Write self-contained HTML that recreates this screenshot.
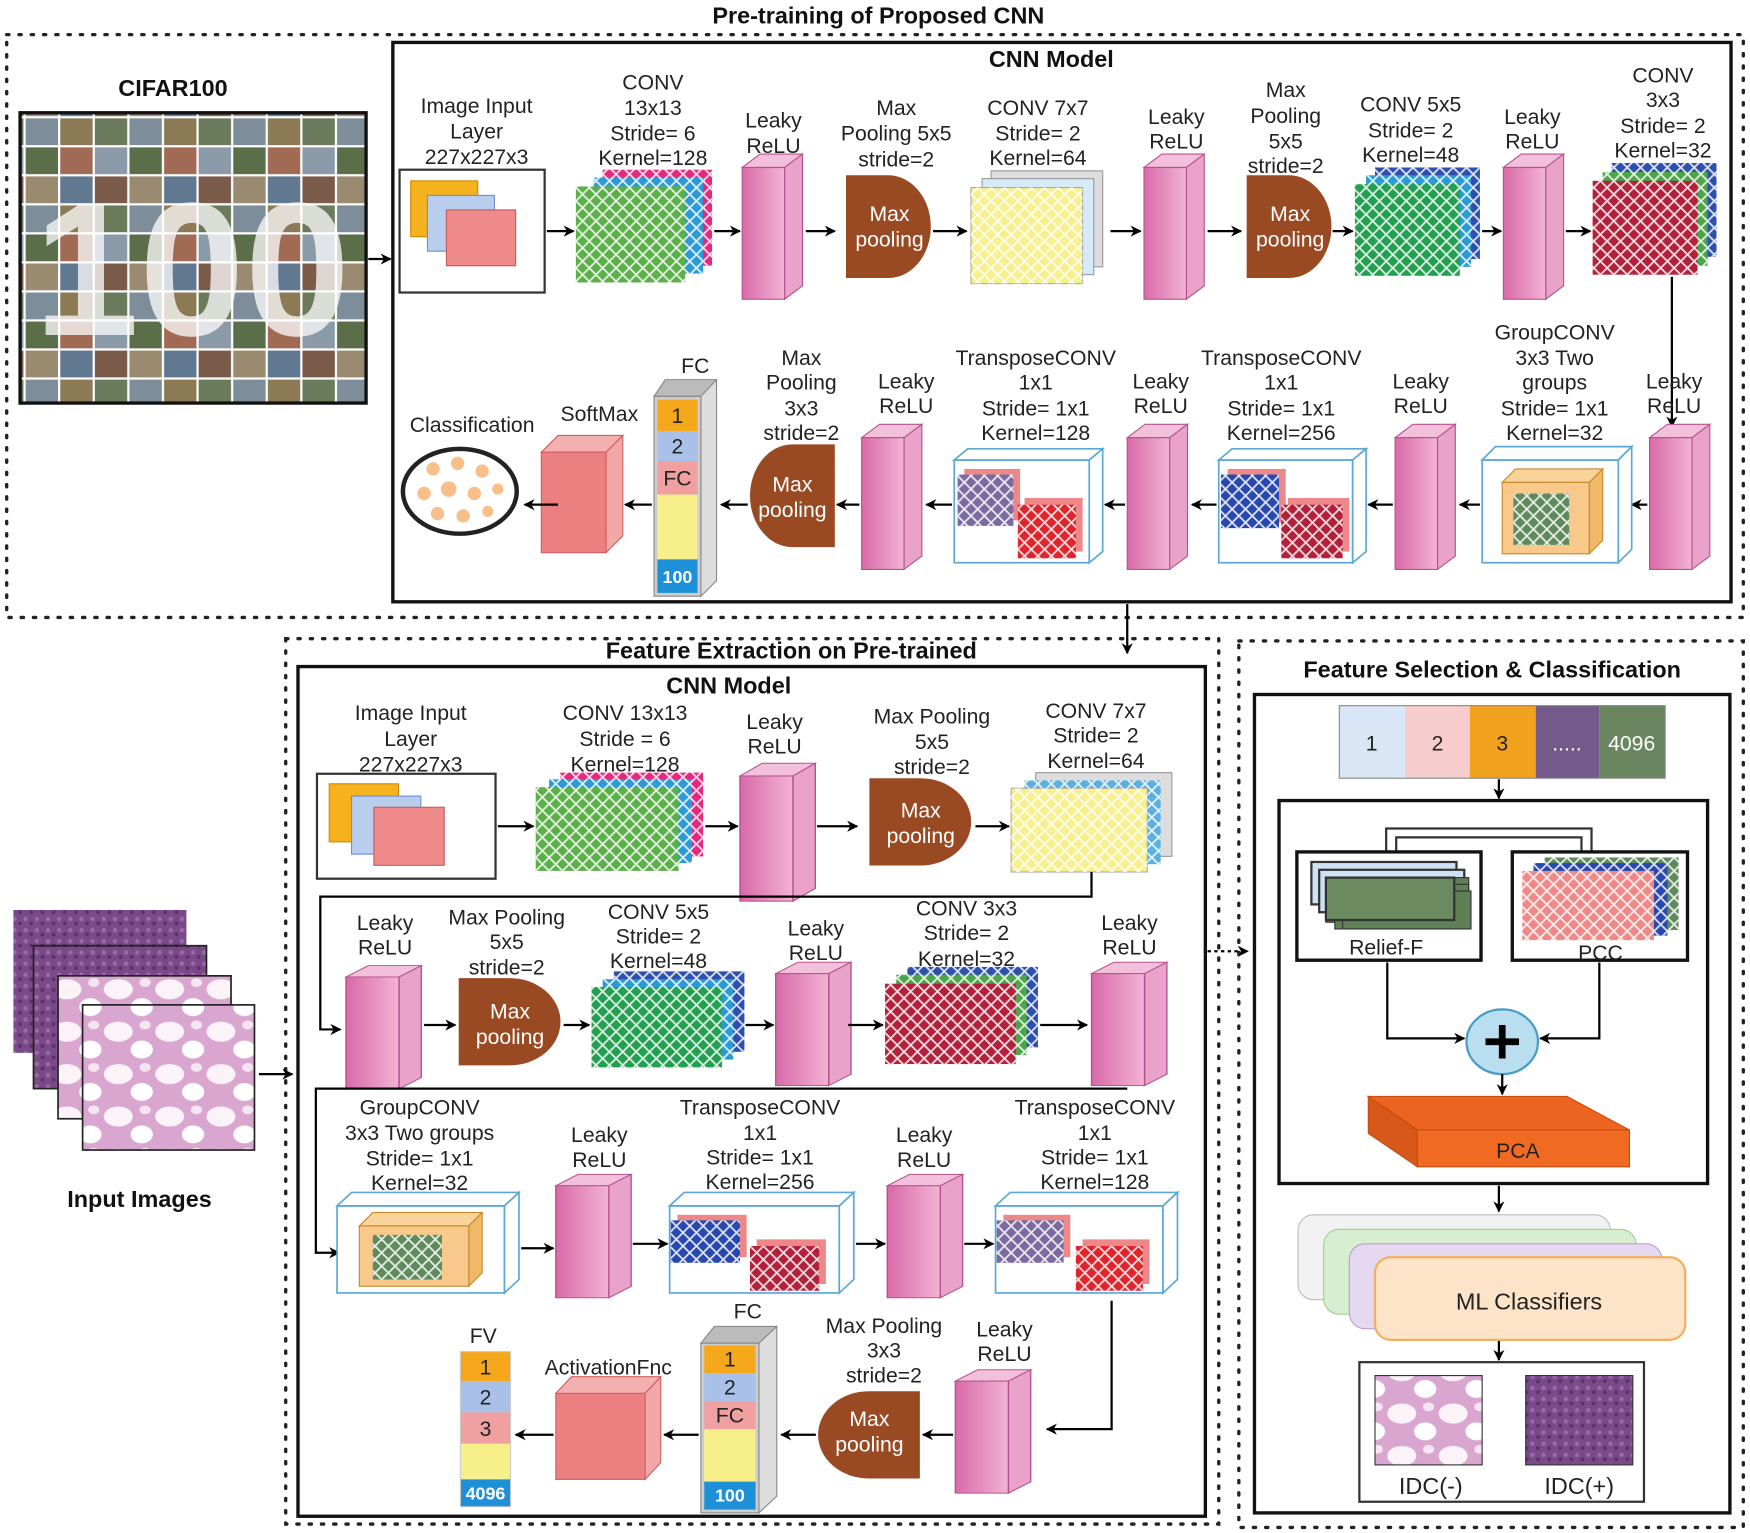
<!DOCTYPE html>
<html><head><meta charset="utf-8"><style>
html,body{margin:0;padding:0;background:#fff}
svg{display:block}
text{font-family:"Liberation Sans",sans-serif;font-size:19px;fill:#222;text-anchor:middle}
.b{font-weight:bold;font-size:21px;fill:#111}
.w{fill:#fff}
.s{font-size:16px;font-weight:bold}
</style></head><body>
<svg width="1750" height="1533" viewBox="0 0 1568 1373" preserveAspectRatio="none" xmlns="http://www.w3.org/2000/svg">
<defs>
<pattern id="h" width="12" height="12" patternUnits="userSpaceOnUse">
<path d="M0,0 L12,12 M12,0 L0,12" stroke="#fff" stroke-width="1.6" opacity="0.85"/>
</pattern>
<marker id="a" markerWidth="10" markerHeight="10" refX="9" refY="5" orient="auto" markerUnits="userSpaceOnUse">
<path d="M0,0 L10,5 L0,10 L3,5 Z" fill="#000"/>
</marker>
<linearGradient id="rg" x1="0" x2="1"><stop offset="0" stop-color="#d96aa8"/><stop offset="1" stop-color="#f2b3d5"/></linearGradient>
<g id="relu">
<polygon points="0,0 16,-12 54,-12 38,0" fill="#f3c0dc" stroke="#b5538e" stroke-width="1"/>
<polygon points="38,0 54,-12 54,106 38,118" fill="#e9a2c9" stroke="#b5538e" stroke-width="1"/>
<rect x="0" y="0" width="38" height="118" fill="url(#rg)" stroke="#b5538e" stroke-width="1"/>
</g>
<g id="mp">
<path d="M0,0 H38 A38,46 0 0 1 38,92 H0 Z" fill="#9a4a22"/>
</g>
<g id="mpl">
<path d="M76,0 H38 A38,46 0 0 0 38,92 H76 Z" fill="#9a4a22"/>
</g>
<pattern id="cif" width="93" height="78" patternUnits="userSpaceOnUse" x="22" y="105">
<rect width="93" height="78" fill="#fff"/>
<rect x="1" y="1" width="29" height="24" fill="#7d8d9a"/>
<rect x="32" y="1" width="29" height="24" fill="#8c7a55"/>
<rect x="63" y="1" width="29" height="24" fill="#6a7a5a"/>
<rect x="1" y="27" width="29" height="24" fill="#5b6e4a"/>
<rect x="32" y="27" width="29" height="24" fill="#a06a55"/>
<rect x="63" y="27" width="29" height="24" fill="#8a9aa8"/>
<rect x="1" y="53" width="29" height="24" fill="#9a8a70"/>
<rect x="32" y="53" width="29" height="24" fill="#607890"/>
<rect x="63" y="53" width="29" height="24" fill="#7a5a48"/>
</pattern>
<pattern id="tis" width="10" height="10" patternUnits="userSpaceOnUse">
<rect width="10" height="10" fill="#7a4a88"/>
<circle cx="3" cy="3" r="2" fill="#9a6aa8"/><circle cx="8" cy="7" r="1.8" fill="#5c3070"/>
</pattern>
<pattern id="tis2" width="46" height="38" patternUnits="userSpaceOnUse">
<rect width="46" height="38" fill="#d9a6d0"/>
<ellipse cx="14" cy="12" rx="13" ry="9" fill="#fbf3f8"/><ellipse cx="35" cy="28" rx="10" ry="8" fill="#fff"/><ellipse cx="38" cy="6" rx="5" ry="4" fill="#f5e5f0"/>
</pattern>
</defs>
<rect width="1568" height="1373" fill="#fff"/>

<!-- ================= TOP ================= -->
<text x="787" y="21" class="b">Pre-training of Proposed CNN</text>
<rect x="6" y="31" width="1556" height="522" fill="none" stroke="#222" stroke-width="3" stroke-dasharray="2 9" stroke-linecap="round"/>
<text x="155" y="86" class="b">CIFAR100</text>
<rect x="18" y="101" width="310" height="260" fill="url(#cif)" stroke="#111" stroke-width="3"/>
<text x="172" y="300" style="font-size:170px;font-weight:bold;fill:#fff;opacity:0.75">100</text>
<line x1="330" y1="232" x2="350" y2="232" stroke="#000" stroke-width="2" marker-end="url(#a)"/>

<rect x="352" y="38" width="1199" height="501" fill="none" stroke="#111" stroke-width="3"/>
<text x="942" y="60" class="b">CNN Model</text>

<!-- row1 -->
<text x="427" y="101">Image Input</text><text x="427" y="124">Layer</text><text x="427" y="147">227x227x3</text>
<rect x="358" y="152" width="130" height="110" fill="#fff" stroke="#333" stroke-width="2"/>
<rect x="368" y="162" width="60" height="50" fill="#f5b21c" stroke="#d08a00"/>
<rect x="383" y="175" width="60" height="50" fill="#b9cdef" stroke="#6f8fcf"/>
<rect x="400" y="188" width="62" height="50" fill="#ee8a8a" stroke="#c85a5a"/>
<line x1="490" y1="207" x2="514" y2="207" stroke="#000" stroke-width="2" marker-end="url(#a)"/>

<text x="585" y="80">CONV</text><text x="585" y="103">13x13</text><text x="585" y="126">Stride= 6</text><text x="585" y="148">Kernel=128</text>
<rect x="540" y="152" width="98" height="86" fill="#e4297e"/><rect x="540" y="152" width="98" height="86" fill="url(#h)"/>
<rect x="532" y="159" width="98" height="86" fill="#2c9ad8"/><rect x="532" y="159" width="98" height="86" fill="url(#h)"/>
<rect x="516" y="167" width="98" height="86" fill="#5cb04a"/><rect x="516" y="167" width="98" height="86" fill="url(#h)"/>
<line x1="640" y1="207" x2="663" y2="207" stroke="#000" stroke-width="2" marker-end="url(#a)"/>
<text x="693" y="114">Leaky</text><text x="693" y="137">ReLU</text>
<use href="#relu" x="665" y="150"/>
<line x1="722" y1="207" x2="748" y2="207" stroke="#000" stroke-width="2" marker-end="url(#a)"/>
<text x="803" y="103">Max</text><text x="803" y="126">Pooling 5x5</text><text x="803" y="149">stride=2</text>
<use href="#mp" x="758" y="157"/>
<text x="797" y="198" class="w">Max</text><text x="797" y="221" class="w">pooling</text>
<line x1="836" y1="207" x2="866" y2="207" stroke="#000" stroke-width="2" marker-end="url(#a)"/>
<text x="930" y="103">CONV 7x7</text><text x="930" y="126">Stride= 2</text><text x="930" y="148">Kernel=64</text>
<rect x="888" y="153" width="100" height="86" fill="#ddd" stroke="#999"/>
<rect x="880" y="160" width="100" height="86" fill="#fff" stroke="#999"/><rect x="880" y="160" width="100" height="86" fill="#5bb0e0" opacity="0.25"/>
<rect x="870" y="168" width="100" height="86" fill="#f6f18e" stroke="#aaa"/><rect x="870" y="168" width="100" height="86" fill="url(#h)"/>
<line x1="995" y1="207" x2="1022" y2="207" stroke="#000" stroke-width="2" marker-end="url(#a)"/>
<text x="1054" y="111">Leaky</text><text x="1054" y="133">ReLU</text>
<use href="#relu" x="1025" y="150"/>
<line x1="1082" y1="207" x2="1112" y2="207" stroke="#000" stroke-width="2" marker-end="url(#a)"/>
<text x="1152" y="87">Max</text><text x="1152" y="110">Pooling</text><text x="1152" y="133">5x5</text><text x="1152" y="155">stride=2</text>
<use href="#mp" x="1117" y="157"/>
<text x="1156" y="198" class="w">Max</text><text x="1156" y="221" class="w">pooling</text>
<line x1="1194" y1="207" x2="1212" y2="207" stroke="#000" stroke-width="2" marker-end="url(#a)"/>
<text x="1264" y="100">CONV 5x5</text><text x="1264" y="123">Stride= 2</text><text x="1264" y="145">Kernel=48</text>
<rect x="1232" y="150" width="94" height="82" fill="#2d4fb0"/><rect x="1232" y="150" width="94" height="82" fill="url(#h)"/>
<rect x="1224" y="157" width="94" height="82" fill="#2a9ad6"/><rect x="1224" y="157" width="94" height="82" fill="url(#h)"/>
<rect x="1214" y="165" width="94" height="82" fill="#22a050"/><rect x="1214" y="165" width="94" height="82" fill="url(#h)"/>
<line x1="1328" y1="207" x2="1345" y2="207" stroke="#000" stroke-width="2" marker-end="url(#a)"/>
<text x="1373" y="111">Leaky</text><text x="1373" y="133">ReLU</text>
<use href="#relu" x="1347" y="150"/>
<line x1="1403" y1="207" x2="1425" y2="207" stroke="#000" stroke-width="2" marker-end="url(#a)"/>
<text x="1490" y="74">CONV</text><text x="1490" y="96">3x3</text><text x="1490" y="119">Stride= 2</text><text x="1490" y="141">Kernel=32</text>
<rect x="1444" y="146" width="94" height="84" fill="#2d4fb0"/><rect x="1444" y="146" width="94" height="84" fill="url(#h)"/>
<rect x="1436" y="154" width="94" height="84" fill="#4ca54a"/><rect x="1436" y="154" width="94" height="84" fill="url(#h)"/>
<rect x="1427" y="162" width="94" height="84" fill="#b3203a"/><rect x="1427" y="162" width="94" height="84" fill="url(#h)"/>
<line x1="1498" y1="248" x2="1498" y2="382" stroke="#000" stroke-width="2" marker-end="url(#a)"/>

<!-- row2 -->
<text x="1500" y="348">Leaky</text><text x="1500" y="370">ReLU</text>
<use href="#relu" x="1478" y="392"/>
<line x1="1476" y1="452" x2="1462" y2="452" stroke="#000" stroke-width="2" marker-end="url(#a)"/>
<text x="1393" y="304">GroupCONV</text><text x="1393" y="327">3x3  Two</text><text x="1393" y="349">groups</text><text x="1393" y="372">Stride= 1x1</text><text x="1393" y="394">Kernel=32</text>
<rect x="1328" y="412" width="122" height="92" fill="#fff" stroke="#5aa8d8" stroke-width="1.5"/>
<polygon points="1328,412 1340,400 1462,400 1450,412" fill="#fff" stroke="#5aa8d8" stroke-width="1.5"/>
<polygon points="1450,412 1462,400 1462,492 1450,504" fill="#fff" stroke="#5aa8d8" stroke-width="1.5"/>
<polygon points="1346,432 1358,420 1436,420 1424,432" fill="#f8d49a" stroke="#c9882b"/>
<polygon points="1424,432 1436,420 1436,484 1424,496" fill="#f0b868" stroke="#c9882b"/>
<rect x="1346" y="432" width="78" height="64" fill="#f8c98a" stroke="#c9882b"/>
<rect x="1356" y="442" width="50" height="46" fill="#5f8a5c"/><rect x="1356" y="442" width="50" height="46" fill="url(#h)"/>
<line x1="1326" y1="452" x2="1308" y2="452" stroke="#000" stroke-width="2" marker-end="url(#a)"/>
<text x="1273" y="348">Leaky</text><text x="1273" y="370">ReLU</text>
<use href="#relu" x="1250" y="392"/>
<line x1="1248" y1="452" x2="1226" y2="452" stroke="#000" stroke-width="2" marker-end="url(#a)"/>
<text x="1148" y="327">TransposeCONV</text><text x="1148" y="349">1x1</text><text x="1148" y="372">Stride= 1x1</text><text x="1148" y="394">Kernel=256</text>
<rect x="1092" y="412" width="120" height="92" fill="#fff" stroke="#5aa8d8" stroke-width="1.5"/>
<polygon points="1092,412 1104,402 1224,402 1212,412" fill="#fff" stroke="#5aa8d8" stroke-width="1.5"/>
<polygon points="1212,412 1224,402 1224,494 1212,504" fill="#fff" stroke="#5aa8d8" stroke-width="1.5"/>
<rect x="1100" y="420" width="52" height="48" fill="#e88"/><rect x="1094" y="425" width="52" height="48" fill="#2848b0"/><rect x="1094" y="425" width="52" height="48" fill="url(#h)"/>
<rect x="1154" y="446" width="55" height="48" fill="#e88"/><rect x="1148" y="452" width="55" height="48" fill="#b3203a"/><rect x="1148" y="452" width="55" height="48" fill="url(#h)"/>
<line x1="1090" y1="452" x2="1068" y2="452" stroke="#000" stroke-width="2" marker-end="url(#a)"/>
<text x="1040" y="348">Leaky</text><text x="1040" y="370">ReLU</text>
<use href="#relu" x="1010" y="392"/>
<line x1="1008" y1="452" x2="990" y2="452" stroke="#000" stroke-width="2" marker-end="url(#a)"/>
<text x="928" y="327">TransposeCONV</text><text x="928" y="349">1x1</text><text x="928" y="372">Stride= 1x1</text><text x="928" y="394">Kernel=128</text>
<rect x="855" y="412" width="121" height="92" fill="#fff" stroke="#5aa8d8" stroke-width="1.5"/>
<polygon points="855,412 867,402 988,402 976,412" fill="#fff" stroke="#5aa8d8" stroke-width="1.5"/>
<polygon points="976,412 988,402 988,494 976,504" fill="#fff" stroke="#5aa8d8" stroke-width="1.5"/>
<rect x="864" y="420" width="50" height="46" fill="#e88"/><rect x="858" y="425" width="50" height="46" fill="#7a6aa0"/><rect x="858" y="425" width="50" height="46" fill="url(#h)"/>
<rect x="918" y="446" width="52" height="48" fill="#e88"/><rect x="912" y="452" width="52" height="48" fill="#e0242c"/><rect x="912" y="452" width="52" height="48" fill="url(#h)"/>
<line x1="853" y1="452" x2="830" y2="452" stroke="#000" stroke-width="2" marker-end="url(#a)"/>
<text x="812" y="348">Leaky</text><text x="812" y="370">ReLU</text>
<use href="#relu" x="772" y="392"/>
<line x1="770" y1="452" x2="750" y2="452" stroke="#000" stroke-width="2" marker-end="url(#a)"/>
<text x="718" y="327">Max</text><text x="718" y="349">Pooling</text><text x="718" y="372">3x3</text><text x="718" y="394">stride=2</text>
<use href="#mpl" x="672" y="398"/>
<text x="710" y="440" class="w">Max</text><text x="710" y="463" class="w">pooling</text>
<line x1="670" y1="452" x2="646" y2="452" stroke="#000" stroke-width="2" marker-end="url(#a)"/>
<text x="623" y="334">FC</text>
<polygon points="586,355 596,340 642,340 632,355" fill="#bbb" stroke="#888"/>
<polygon points="628,355 642,340 642,520 628,534" fill="#ddd" stroke="#888"/>
<rect x="586" y="355" width="42" height="179" fill="#ccc" stroke="#888"/>
<rect x="589" y="358" width="36" height="28" fill="#f5a81c"/><text x="607" y="379">1</text>
<rect x="589" y="386" width="36" height="27" fill="#a9c1e8"/><text x="607" y="406">2</text>
<rect x="589" y="413" width="36" height="30" fill="#f0a0a0"/><text x="607" y="435">FC</text>
<rect x="589" y="443" width="36" height="58" fill="#f7f08a"/>
<rect x="589" y="501" width="36" height="30" fill="#1e90d8"/><text x="607" y="522" class="w s">100</text>
<line x1="584" y1="452" x2="560" y2="452" stroke="#000" stroke-width="2" marker-end="url(#a)"/>
<text x="537" y="377">SoftMax</text>
<polygon points="485,405 500,390 558,390 543,405" fill="#f4b0b0" stroke="#d06060"/>
<polygon points="543,405 558,390 558,480 543,495" fill="#f2a8a8" stroke="#d06060"/>
<rect x="485" y="405" width="58" height="90" fill="#ec8080" stroke="#d06060"/>
<line x1="500" y1="452" x2="470" y2="452" stroke="#000" stroke-width="2" marker-end="url(#a)"/>
<text x="423" y="387">Classification</text>
<ellipse cx="412" cy="440" rx="51" ry="38" fill="#fff" stroke="#222" stroke-width="4"/>
<g fill="#f9bf8a"><circle cx="388" cy="420" r="6"/><circle cx="410" cy="415" r="6"/><circle cx="432" cy="422" r="6"/><circle cx="380" cy="442" r="6"/><circle cx="402" cy="438" r="7"/><circle cx="425" cy="442" r="6"/><circle cx="446" cy="438" r="5"/><circle cx="392" cy="460" r="6"/><circle cx="415" cy="462" r="6"/><circle cx="437" cy="458" r="5"/></g>

<line x1="1010" y1="541" x2="1010" y2="585" stroke="#000" stroke-width="2" marker-end="url(#a)"/>

<!-- ================= BOTTOM LEFT ================= -->
<rect x="256" y="572" width="836" height="793" fill="none" stroke="#222" stroke-width="3" stroke-dasharray="2 9" stroke-linecap="round"/>
<text x="709" y="590" class="b">Feature Extraction on Pre-trained</text>
<rect x="267" y="597" width="813" height="761" fill="none" stroke="#111" stroke-width="3"/>
<text x="653" y="621" class="b">CNN Model</text>

<text x="368" y="645">Image Input</text><text x="368" y="668">Layer</text><text x="368" y="691">227x227x3</text>
<rect x="284" y="693" width="160" height="94" fill="#fff" stroke="#333" stroke-width="2"/>
<rect x="295" y="702" width="62" height="52" fill="#f5b21c" stroke="#d08a00"/>
<rect x="315" y="713" width="62" height="52" fill="#b9cdef" stroke="#6f8fcf"/>
<rect x="335" y="723" width="63" height="52" fill="#ee8a8a" stroke="#c85a5a"/>
<line x1="446" y1="740" x2="478" y2="740" stroke="#000" stroke-width="2" marker-end="url(#a)"/>
<text x="560" y="645">CONV 13x13</text><text x="560" y="668">Stride = 6</text><text x="560" y="691">Kernel=128</text>
<rect x="502" y="692" width="128" height="75" fill="#e4297e"/><rect x="502" y="692" width="128" height="75" fill="url(#h)"/>
<rect x="492" y="698" width="128" height="75" fill="#2c9ad8"/><rect x="492" y="698" width="128" height="75" fill="url(#h)"/>
<rect x="480" y="705" width="128" height="75" fill="#5cb04a"/><rect x="480" y="705" width="128" height="75" fill="url(#h)"/>
<line x1="632" y1="740" x2="661" y2="740" stroke="#000" stroke-width="2" marker-end="url(#a)"/>
<text x="694" y="653">Leaky</text><text x="694" y="675">ReLU</text>
<use href="#relu" transform="translate(663,695) scale(1.25,0.95)"/>
<line x1="732" y1="740" x2="768" y2="740" stroke="#000" stroke-width="2" marker-end="url(#a)"/>
<text x="835" y="648">Max Pooling</text><text x="835" y="671">5x5</text><text x="835" y="693">stride=2</text>
<use href="#mp" transform="translate(779,697) scale(1.2,0.85)"/>
<text x="825" y="732" class="w">Max</text><text x="825" y="755" class="w">pooling</text>
<line x1="874" y1="740" x2="904" y2="740" stroke="#000" stroke-width="2" marker-end="url(#a)"/>
<text x="982" y="643">CONV 7x7</text><text x="982" y="665">Stride= 2</text><text x="982" y="688">Kernel=64</text>
<rect x="928" y="692" width="122" height="75" fill="#ddd" stroke="#999"/>
<rect x="918" y="699" width="122" height="75" fill="#5bb0e0"/><rect x="918" y="699" width="122" height="75" fill="url(#h)"/>
<rect x="906" y="706" width="122" height="75" fill="#f6f18e" stroke="#aaa"/><rect x="906" y="706" width="122" height="75" fill="url(#h)"/>
<polyline points="978,781 978,803 287,803 287,922 305,922" fill="none" stroke="#000" stroke-width="2" marker-end="url(#a)"/>

<text x="345" y="833">Leaky</text><text x="345" y="855">ReLU</text>
<use href="#relu" transform="translate(310,875) scale(1.25,0.85)"/>
<line x1="380" y1="918" x2="408" y2="918" stroke="#000" stroke-width="2" marker-end="url(#a)"/>
<text x="454" y="828">Max Pooling</text><text x="454" y="850">5x5</text><text x="454" y="873">stride=2</text>
<use href="#mp" transform="translate(411,876) scale(1.2,0.85)"/>
<text x="457" y="912" class="w">Max</text><text x="457" y="935" class="w">pooling</text>
<line x1="505" y1="918" x2="528" y2="918" stroke="#000" stroke-width="2" marker-end="url(#a)"/>
<text x="590" y="823">CONV 5x5</text><text x="590" y="845">Stride= 2</text><text x="590" y="867">Kernel=48</text>
<rect x="550" y="870" width="117" height="72" fill="#2d4fb0"/><rect x="550" y="870" width="117" height="72" fill="url(#h)"/>
<rect x="540" y="877" width="117" height="72" fill="#2a9ad6"/><rect x="540" y="877" width="117" height="72" fill="url(#h)"/>
<rect x="530" y="884" width="117" height="72" fill="#22a050"/><rect x="530" y="884" width="117" height="72" fill="url(#h)"/>
<line x1="668" y1="918" x2="693" y2="918" stroke="#000" stroke-width="2" marker-end="url(#a)"/>
<text x="731" y="838">Leaky</text><text x="731" y="860">ReLU</text>
<use href="#relu" transform="translate(695,872) scale(1.25,0.85)"/>
<line x1="760" y1="918" x2="791" y2="918" stroke="#000" stroke-width="2" marker-end="url(#a)"/>
<text x="866" y="820">CONV 3x3</text><text x="866" y="842">Stride= 2</text><text x="866" y="865">Kernel=32</text>
<rect x="813" y="866" width="117" height="72" fill="#2d4fb0"/><rect x="813" y="866" width="117" height="72" fill="url(#h)"/>
<rect x="803" y="873" width="117" height="72" fill="#4ca54a"/><rect x="803" y="873" width="117" height="72" fill="url(#h)"/>
<rect x="793" y="881" width="117" height="72" fill="#b3203a"/><rect x="793" y="881" width="117" height="72" fill="url(#h)"/>
<line x1="932" y1="918" x2="974" y2="918" stroke="#000" stroke-width="2" marker-end="url(#a)"/>
<text x="1012" y="833">Leaky</text><text x="1012" y="855">ReLU</text>
<use href="#relu" transform="translate(978,872) scale(1.25,0.85)"/>
<polyline points="1010,975 283,975 283,1122 304,1122" fill="none" stroke="#000" stroke-width="2" marker-end="url(#a)"/>

<text x="376" y="998">GroupCONV</text><text x="376" y="1021">3x3  Two groups</text><text x="376" y="1044">Stride= 1x1</text><text x="376" y="1066">Kernel=32</text>
<rect x="302" y="1080" width="150" height="78" fill="#fff" stroke="#5aa8d8" stroke-width="1.5"/>
<polygon points="302,1080 315,1068 465,1068 452,1080" fill="#fff" stroke="#5aa8d8" stroke-width="1.5"/>
<polygon points="452,1080 465,1068 465,1146 452,1158" fill="#fff" stroke="#5aa8d8" stroke-width="1.5"/>
<polygon points="322,1098 334,1086 432,1086 420,1098" fill="#f8d49a" stroke="#c9882b"/>
<polygon points="420,1098 432,1086 432,1140 420,1152" fill="#f0b868" stroke="#c9882b"/>
<rect x="322" y="1098" width="98" height="54" fill="#f8c98a" stroke="#c9882b"/>
<rect x="334" y="1106" width="62" height="40" fill="#5f8a5c"/><rect x="334" y="1106" width="62" height="40" fill="url(#h)"/>
<line x1="467" y1="1118" x2="496" y2="1118" stroke="#000" stroke-width="2" marker-end="url(#a)"/>
<text x="537" y="1023">Leaky</text><text x="537" y="1045">ReLU</text>
<use href="#relu" transform="translate(498,1062) scale(1.25,0.85)"/>
<line x1="567" y1="1114" x2="598" y2="1114" stroke="#000" stroke-width="2" marker-end="url(#a)"/>
<text x="681" y="998">TransposeCONV</text><text x="681" y="1021">1x1</text><text x="681" y="1043">Stride= 1x1</text><text x="681" y="1065">Kernel=256</text>
<rect x="600" y="1080" width="152" height="78" fill="#fff" stroke="#5aa8d8" stroke-width="1.5"/>
<polygon points="600,1080 613,1068 765,1068 752,1080" fill="#fff" stroke="#5aa8d8" stroke-width="1.5"/>
<polygon points="752,1080 765,1068 765,1146 752,1158" fill="#fff" stroke="#5aa8d8" stroke-width="1.5"/>
<rect x="607" y="1088" width="62" height="38" fill="#e88"/><rect x="601" y="1093" width="62" height="38" fill="#2848b0"/><rect x="601" y="1093" width="62" height="38" fill="url(#h)"/>
<rect x="678" y="1110" width="62" height="40" fill="#e88"/><rect x="672" y="1116" width="62" height="40" fill="#b3203a"/><rect x="672" y="1116" width="62" height="40" fill="url(#h)"/>
<line x1="767" y1="1114" x2="793" y2="1114" stroke="#000" stroke-width="2" marker-end="url(#a)"/>
<text x="828" y="1023">Leaky</text><text x="828" y="1045">ReLU</text>
<use href="#relu" transform="translate(795,1062) scale(1.25,0.85)"/>
<line x1="864" y1="1114" x2="890" y2="1114" stroke="#000" stroke-width="2" marker-end="url(#a)"/>
<text x="981" y="998">TransposeCONV</text><text x="981" y="1021">1x1</text><text x="981" y="1043">Stride= 1x1</text><text x="981" y="1065">Kernel=128</text>
<rect x="892" y="1080" width="150" height="78" fill="#fff" stroke="#5aa8d8" stroke-width="1.5"/>
<polygon points="892,1080 905,1068 1055,1068 1042,1080" fill="#fff" stroke="#5aa8d8" stroke-width="1.5"/>
<polygon points="1042,1080 1055,1068 1055,1146 1042,1158" fill="#fff" stroke="#5aa8d8" stroke-width="1.5"/>
<rect x="899" y="1088" width="60" height="38" fill="#e88"/><rect x="893" y="1093" width="60" height="38" fill="#7a6aa0"/><rect x="893" y="1093" width="60" height="38" fill="url(#h)"/>
<rect x="970" y="1110" width="60" height="40" fill="#e88"/><rect x="964" y="1116" width="60" height="40" fill="#e0242c"/><rect x="964" y="1116" width="60" height="40" fill="url(#h)"/>
<polyline points="996,1165 996,1280 938,1280" fill="none" stroke="#000" stroke-width="2" marker-end="url(#a)"/>

<text x="900" y="1197">Leaky</text><text x="900" y="1219">ReLU</text>
<use href="#relu" transform="translate(856,1237) scale(1.25,0.85)"/>
<line x1="854" y1="1285" x2="827" y2="1285" stroke="#000" stroke-width="2" marker-end="url(#a)"/>
<text x="792" y="1194">Max Pooling</text><text x="792" y="1216">3x3</text><text x="792" y="1238">stride=2</text>
<use href="#mpl" transform="translate(733,1246) scale(1.2,0.85)"/>
<text x="779" y="1277" class="w">Max</text><text x="779" y="1300" class="w">pooling</text>
<line x1="731" y1="1285" x2="700" y2="1285" stroke="#000" stroke-width="2" marker-end="url(#a)"/>
<text x="670" y="1181">FC</text>
<polygon points="628,1203 640,1188 696,1188 684,1203" fill="#bbb" stroke="#888"/>
<polygon points="680,1203 696,1188 696,1340 680,1355" fill="#ddd" stroke="#888"/>
<rect x="628" y="1203" width="52" height="152" fill="#ccc" stroke="#888"/>
<rect x="631" y="1205" width="46" height="25" fill="#f5a81c"/><text x="654" y="1224">1</text>
<rect x="631" y="1230" width="46" height="25" fill="#a9c1e8"/><text x="654" y="1249">2</text>
<rect x="631" y="1255" width="46" height="25" fill="#f0a0a0"/><text x="654" y="1274">FC</text>
<rect x="631" y="1280" width="46" height="47" fill="#f7f08a"/>
<rect x="631" y="1327" width="46" height="25" fill="#1e90d8"/><text x="654" y="1345" class="w s">100</text>
<line x1="626" y1="1285" x2="595" y2="1285" stroke="#000" stroke-width="2" marker-end="url(#a)"/>
<text x="545" y="1231">ActivationFnc</text>
<polygon points="498,1248 512,1233 592,1233 578,1248" fill="#f4b0b0" stroke="#d06060"/>
<polygon points="578,1248 592,1233 592,1310 578,1325" fill="#f2a8a8" stroke="#d06060"/>
<rect x="498" y="1248" width="80" height="77" fill="#ec8080" stroke="#d06060"/>
<line x1="496" y1="1285" x2="462" y2="1285" stroke="#000" stroke-width="2" marker-end="url(#a)"/>
<text x="433" y="1203">FV</text>
<rect x="412" y="1210" width="46" height="140" fill="#ccc"/>
<rect x="413" y="1211" width="44" height="26" fill="#f5a81c"/><text x="435" y="1231">1</text>
<rect x="413" y="1237" width="44" height="28" fill="#a9c1e8"/><text x="435" y="1258">2</text>
<rect x="413" y="1265" width="44" height="28" fill="#f0a0a0"/><text x="435" y="1286">3</text>
<rect x="413" y="1293" width="44" height="32" fill="#f7f08a"/>
<rect x="413" y="1325" width="44" height="24" fill="#1e90d8"/><text x="435" y="1343" class="w s">4096</text>

<!-- input images -->
<rect x="12" y="815" width="155" height="128" fill="url(#tis)"/>
<rect x="30" y="847" width="155" height="128" fill="url(#tis)" stroke="#222" stroke-width="1.5"/>
<rect x="52" y="874" width="155" height="128" fill="url(#tis2)" stroke="#222" stroke-width="1.5"/>
<rect x="74" y="900" width="154" height="130" fill="url(#tis2)" stroke="#222" stroke-width="1.5"/>
<text x="125" y="1081" class="b">Input  Images</text>
<line x1="232" y1="962" x2="262" y2="962" stroke="#000" stroke-width="2" marker-end="url(#a)"/>
<line x1="1082" y1="852" x2="1118" y2="852" stroke="#000" stroke-width="2" stroke-dasharray="3 3" marker-end="url(#a)"/>

<!-- ================= RIGHT ================= -->
<rect x="1110" y="574" width="452" height="794" fill="none" stroke="#222" stroke-width="3" stroke-dasharray="2 9" stroke-linecap="round"/>
<text x="1337" y="607" class="b">Feature Selection &amp; Classification</text>
<rect x="1124" y="622" width="426" height="733" fill="none" stroke="#111" stroke-width="3"/>
<rect x="1200" y="632" width="59" height="65" fill="#d9e6f6"/><text x="1229" y="672">1</text>
<rect x="1259" y="632" width="58" height="65" fill="#f6cccc"/><text x="1288" y="672">2</text>
<rect x="1317" y="632" width="59" height="65" fill="#f0a21e"/><text x="1346" y="672">3</text>
<rect x="1376" y="632" width="57" height="65" fill="#735a8a"/><text x="1404" y="672" class="w">.....</text>
<rect x="1433" y="632" width="59" height="65" fill="#6a8660"/><text x="1462" y="672" class="w">4096</text>
<rect x="1200" y="632" width="292" height="65" fill="none" stroke="#888"/>
<line x1="1343" y1="698" x2="1343" y2="715" stroke="#000" stroke-width="2" marker-end="url(#a)"/>
<rect x="1146" y="717" width="384" height="343" fill="none" stroke="#111" stroke-width="3"/>
<polyline points="1242,763 1242,742 1426,742 1426,763" fill="none" stroke="#333" stroke-width="2"/>
<polyline points="1251,763 1251,750 1417,750 1417,763" fill="none" stroke="#333" stroke-width="2"/>
<rect x="1162" y="763" width="165" height="97" fill="#fff" stroke="#111" stroke-width="3"/>
<rect x="1175" y="772" width="130" height="38" fill="#cfe2f5" stroke="#333" stroke-width="2"/>
<rect x="1182" y="779" width="130" height="38" fill="#cfe2f5" stroke="#333" stroke-width="2"/>
<rect x="1188" y="786" width="128" height="40" fill="#5f7f55" stroke="#333"/>
<rect x="1196" y="792" width="120" height="40" fill="#5f7f55" stroke="#333"/>
<rect x="1203" y="798" width="115" height="34" fill="#5f7f55" stroke="#333"/>
<rect x="1188" y="786" width="115" height="38" fill="#6b8a5f" stroke="#333" stroke-width="2"/>
<text x="1242" y="855">Relief-F</text>
<rect x="1355" y="763" width="157" height="97" fill="#fff" stroke="#111" stroke-width="3"/>
<rect x="1384" y="768" width="120" height="65" fill="#5f8a5c"/><rect x="1384" y="768" width="120" height="65" fill="url(#h)"/>
<rect x="1374" y="773" width="120" height="65" fill="#2848b0"/><rect x="1374" y="773" width="120" height="65" fill="url(#h)"/>
<rect x="1364" y="780" width="118" height="62" fill="#f08888"/><rect x="1364" y="780" width="118" height="62" fill="url(#h)"/>
<text x="1434" y="860">PCC</text>
<polyline points="1243,862 1243,930 1312,930" fill="none" stroke="#000" stroke-width="2" marker-end="url(#a)"/>
<polyline points="1433,862 1433,930 1380,930" fill="none" stroke="#000" stroke-width="2" marker-end="url(#a)"/>
<ellipse cx="1346" cy="933" rx="32" ry="29" fill="#b8def0" stroke="#4a9cc4" stroke-width="2"/>
<path d="M1346,918 V948 M1331,933 H1361" stroke="#000" stroke-width="6"/>
<line x1="1346" y1="962" x2="1346" y2="980" stroke="#000" stroke-width="2" marker-end="url(#a)"/>
<polygon points="1226,982 1404,982 1460,1012 1270,1012" fill="#ec6420" stroke="#c84a10"/>
<polygon points="1226,982 1270,1012 1270,1045 1226,1015" fill="#d8581a" stroke="#c84a10"/>
<rect x="1270" y="1012" width="190" height="33" fill="#f06a22" stroke="#c84a10"/>
<text x="1360" y="1037">PCA</text>
<line x1="1343" y1="1062" x2="1343" y2="1085" stroke="#000" stroke-width="2" marker-end="url(#a)"/>
<rect x="1163" y="1088" width="280" height="76" rx="14" fill="#f2f2f2" stroke="#bbb"/>
<rect x="1186" y="1101" width="280" height="76" rx="14" fill="#d7efd0" stroke="#9fcf90"/>
<rect x="1209" y="1114" width="280" height="76" rx="14" fill="#e5d8f0" stroke="#b9a0d3"/>
<rect x="1232" y="1126" width="278" height="74" rx="14" fill="#fde3c8" stroke="#f0b060" stroke-width="2"/>
<text x="1370" y="1173" style="font-size:21px">ML Classifiers</text>
<line x1="1343" y1="1201" x2="1343" y2="1218" stroke="#000" stroke-width="2" marker-end="url(#a)"/>
<rect x="1218" y="1220" width="255" height="125" fill="#fff" stroke="#333" stroke-width="2"/>
<rect x="1232" y="1232" width="96" height="80" fill="url(#tis2)" stroke="#333"/>
<rect x="1367" y="1232" width="96" height="80" fill="url(#tis)" stroke="#333"/>
<text x="1282" y="1338" style="font-size:21px">IDC(-)</text>
<text x="1415" y="1338" style="font-size:21px">IDC(+)</text>
</svg>
</body></html>
